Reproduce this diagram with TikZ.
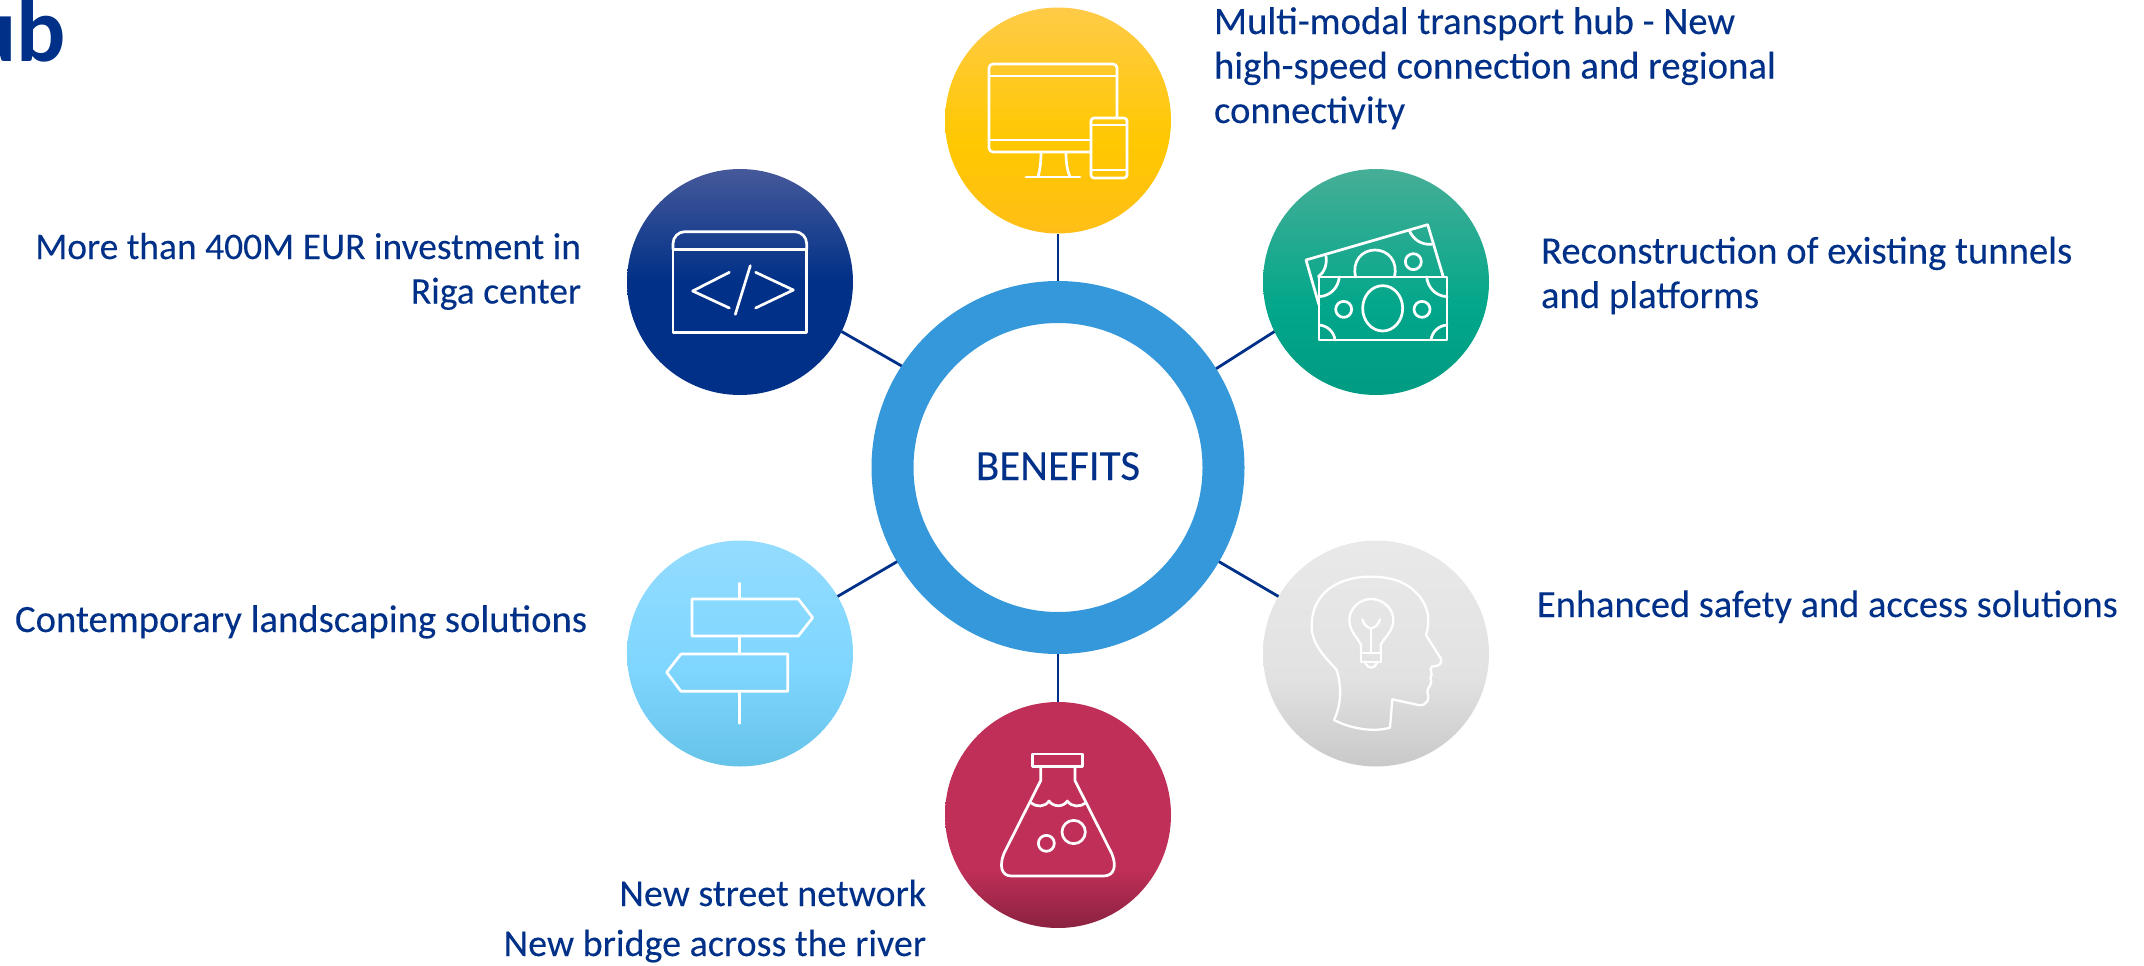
\documentclass[tikz,border=0pt]{standalone}
\usepackage{fontspec}
\setmainfont{Carlito}
\newfontfamily\txtfont[FakeBold=0.12]{Carlito}
\definecolor{ink}{HTML}{003087}
\definecolor{ringblue}{HTML}{3498DB}
\definecolor{yb}{HTML}{FFBE18}\definecolor{ym}{HTML}{FFC800}\definecolor{yt}{HTML}{FFCB48}
\definecolor{nb}{HTML}{003087}\definecolor{nm}{HTML}{003087}\definecolor{nt}{HTML}{46599A}
\definecolor{gb}{HTML}{009B82}\definecolor{gm}{HTML}{03A78B}\definecolor{gt}{HTML}{46AE96}
\definecolor{wb}{HTML}{C9C9C9}\definecolor{wm}{HTML}{E2E2E2}\definecolor{wt}{HTML}{E9E9E9}
\definecolor{lb}{HTML}{66C3E8}\definecolor{lm}{HTML}{7FD6FF}\definecolor{lt}{HTML}{94DCFF}
\definecolor{mb}{HTML}{8A2240}\definecolor{mm}{HTML}{C02F57}\definecolor{mt}{HTML}{C02F57}
\pgfdeclareverticalshading{yellowgrad}{100bp}{color(0bp)=(yb); color(25bp)=(yb); color(45bp)=(ym); color(75bp)=(yt); color(100bp)=(yt)}
\pgfdeclareverticalshading{navygrad}{100bp}{color(0bp)=(nb); color(25bp)=(nb); color(50bp)=(nm); color(75bp)=(nt); color(100bp)=(nt)}
\pgfdeclareverticalshading{greengrad}{100bp}{color(0bp)=(gb); color(25bp)=(gb); color(45bp)=(gm); color(75bp)=(gt); color(100bp)=(gt)}
\pgfdeclareverticalshading{greygrad}{100bp}{color(0bp)=(wb); color(25bp)=(wb); color(45bp)=(wm); color(75bp)=(wt); color(100bp)=(wt)}
\pgfdeclareverticalshading{skygrad}{100bp}{color(0bp)=(lb); color(25bp)=(lb); color(47bp)=(lm); color(75bp)=(lt); color(100bp)=(lt)}
\pgfdeclareverticalshading{redgrad}{100bp}{color(0bp)=(mb); color(25bp)=(mb); color(38bp)=(mm); color(75bp)=(mt); color(100bp)=(mt)}
\tikzset{
  disc/.style={circle,minimum size=226pt,inner sep=0pt,outer sep=0pt,shading=#1,shading angle=0},
  txtlab/.style={text=ink,font=\txtfont\fontsize{38.7}{44.5}\selectfont,inner sep=0pt,outer sep=0pt},
  link/.style={draw=ink,line width=2.8pt},
  icon/.style={draw=white,line width=2.7pt,line join=round,line cap=round},
  thinicon/.style={icon,line width=2.3pt},
}
\begin{document}
\begin{tikzpicture}[x=1pt,y=-1pt]
\useasboundingbox (0,0) rectangle (2144,966);
\node[anchor=base east,text=ink,inner sep=0pt,font=\fontsize{92}{92}\selectfont\bfseries] (title) at (66,62) {ub};
\node[circle,draw=ringblue,line width=42pt,minimum size=331pt,inner sep=0pt,text=ink] (ring) at (1058,467.5) {};
\node[text=ink,inner sep=0pt,font=\txtfont\fontsize{43}{44}\selectfont,anchor=base] (center) at (1058,480) {BENEFITS};
\node[disc=yellowgrad] (yellow) at (1058,120.5) {};
\node[disc=navygrad] (navy) at (740,282) {};
\node[disc=greengrad] (green) at (1376,282) {};
\node[disc=greygrad] (grey) at (1376,653.5) {};
\node[disc=skygrad] (sky) at (740,653.5) {};
\node[disc=redgrad] (red) at (1058,815) {};
\draw[link] (ring) -- (yellow);
\draw[link] (ring.147.2) -- (navy.-26.3);
\draw[link] (ring.32.8) -- (green.-154);
\draw[link] (ring) -- (grey);
\draw[link] (ring) -- (sky);
\draw[link] (ring) -- (red);
% labels
\node[txtlab,align=left,anchor=base west] (t1) at (1214,123) {Multi-modal transport hub - New\\high-speed connection and regional\\connectivity};
\node[txtlab,align=right,anchor=base east,font=\txtfont\fontsize{37.5}{44.5}\selectfont] (t2) at (581,303.5) {More than 400M EUR investment in\\Riga center};
\node[txtlab,align=left,anchor=base west] (t3) at (1541,308) {Reconstruction of existing tunnels\\and platforms};
\node[txtlab,anchor=base west,font=\txtfont\fontsize{38.4}{44.5}\selectfont] (t4) at (1537,617) {Enhanced safety and access solutions};
\node[txtlab,anchor=base west] (t5) at (15,632) {Contemporary landscaping solutions};
\node[txtlab,align=right,anchor=base east,font=\txtfont\fontsize{38}{50}\selectfont] (t6) at (926,956) {New street network\\New bridge across the river};
% monitor
\draw[icon,rounded corners=4pt] (1117,118) -- (1117,64) -- (989,64) -- (989,152) -- (1091,152);
\draw[icon] (989,76) -- (1117,76) (989,140) -- (1091,140);
\draw[icon] (1041,152) .. controls (1041,162) and (1040,170) .. (1038,177);
\draw[icon] (1066,152) .. controls (1066,162) and (1067,170) .. (1070,177);
\draw[icon] (1026,177) -- (1080,177);
\draw[icon,rounded corners=3pt] (1091,118) rectangle (1127,178);
\draw[icon] (1091,125) -- (1127,125) (1091,170) -- (1127,170);
% code window
\begin{scope}[shift={(600,150)},scale=1/3]
\draw[icon,rounded corners=12pt] (219,298) -- (219,245) -- (620,245) -- (620,298);
\draw[icon] (219,298) -- (219,548) -- (620,548) -- (620,298) -- cycle;
\draw[icon] (388,367) -- (278,423) -- (388,474);
\draw[icon] (451,347) -- (406,493);
\draw[icon] (467,367) -- (580,420) -- (467,474);
\end{scope}
% banknotes
\begin{scope}[shift={(1250,150)},scale=1/3]
\draw[icon,line cap=butt] (207,465) -- (168,330) -- (533,224) -- (580,381);
\draw[icon] (317,381) .. controls (305,335) and (335,300) .. (375,300) .. controls (415,300) and (445,335) .. (433,381);
\draw[icon] (490,335) circle (24);
\draw[icon] (477,240) .. controls (490,270) and (515,285) .. (545,283);
\draw[icon] (228,318) .. controls (232,345) and (222,368) .. (205,380);
\draw[icon] (207,381) rectangle (591,570);
\draw[icon] (398,475) ellipse (60 and 68);
\draw[icon] (281,478) circle (24);
\draw[icon] (516,478) circle (24);
\draw[icon] (268,381) .. controls (264,415) and (240,438) .. (207,440);
\draw[icon] (530,381) .. controls (534,415) and (558,438) .. (591,440);
\draw[icon] (207,525) .. controls (232,527) and (252,545) .. (255,570);
\draw[icon] (591,525) .. controls (566,527) and (546,545) .. (543,570);
\end{scope}
% head
\begin{scope}[shift={(1250,530)},scale=1/3]
\draw[thinicon] (252,570) .. controls (290,590) and (360,610) .. (420,593) -- (427,508) -- (505,525) .. controls (530,528) and (540,510) .. (532,485) .. controls (532,470) and (550,465) .. (541,445) .. controls (552,430) and (535,420) .. (545,410) .. controls (565,410) and (580,400) .. (572,385) -- (528,315) .. controls (545,260) and (530,215) .. (490,180) .. controls (450,145) and (400,140) .. (360,140) .. controls (290,140) and (185,170) .. (185,290) .. controls (185,350) and (240,395) .. (260,420) .. controls (275,470) and (275,520) .. (252,570) -- cycle;
\draw[thinicon] (333,370) -- (333,345) .. controls (325,325) and (298,305) .. (298,270) .. controls (298,235) and (330,207) .. (363,207) .. controls (398,207) and (430,235) .. (430,270) .. controls (430,305) and (400,325) .. (392,345) -- (392,370);
\draw[thinicon] (333,370) -- (392,370) -- (392,395) -- (333,395) -- cycle;
\draw[thinicon] (345,395) .. controls (350,408) and (355,413) .. (363,413) .. controls (372,413) and (377,408) .. (382,395);
\draw[thinicon] (337,268) .. controls (342,285) and (352,293) .. (363,295) .. controls (374,293) and (385,285) .. (390,268);
\draw[thinicon] (363,295) -- (363,370);
\end{scope}
% signpost
\begin{scope}[shift={(610,530)},scale=1/3]
\draw[icon] (388,160) -- (388,205) (388,320) -- (388,370) (388,485) -- (388,580);
\draw[icon] (246,207) -- (565,207) -- (608,263) -- (565,318) -- (246,318) -- cycle;
\draw[icon] (533,372) -- (213,372) -- (170,427) -- (213,484) -- (533,484) -- cycle;
\end{scope}
% flask
\begin{scope}[shift={(930,690)},scale=1/3]
\draw[icon] (307,192) rectangle (457,230);
\draw[icon] (332,230) -- (332,272) -- (222,490) .. controls (208,525) and (212,558) .. (245,558) -- (520,558) .. controls (555,558) and (560,525) .. (545,490) -- (435,272) -- (435,230);
\draw[icon] (302,338) .. controls (318,352) and (345,352) .. (357,333) .. controls (370,352) and (400,352) .. (412,333) .. controls (425,352) and (452,352) .. (468,338);
\draw[icon] (431,426) circle (35);
\draw[icon] (349,460) circle (24);
\end{scope}
\end{tikzpicture}
\end{document}
